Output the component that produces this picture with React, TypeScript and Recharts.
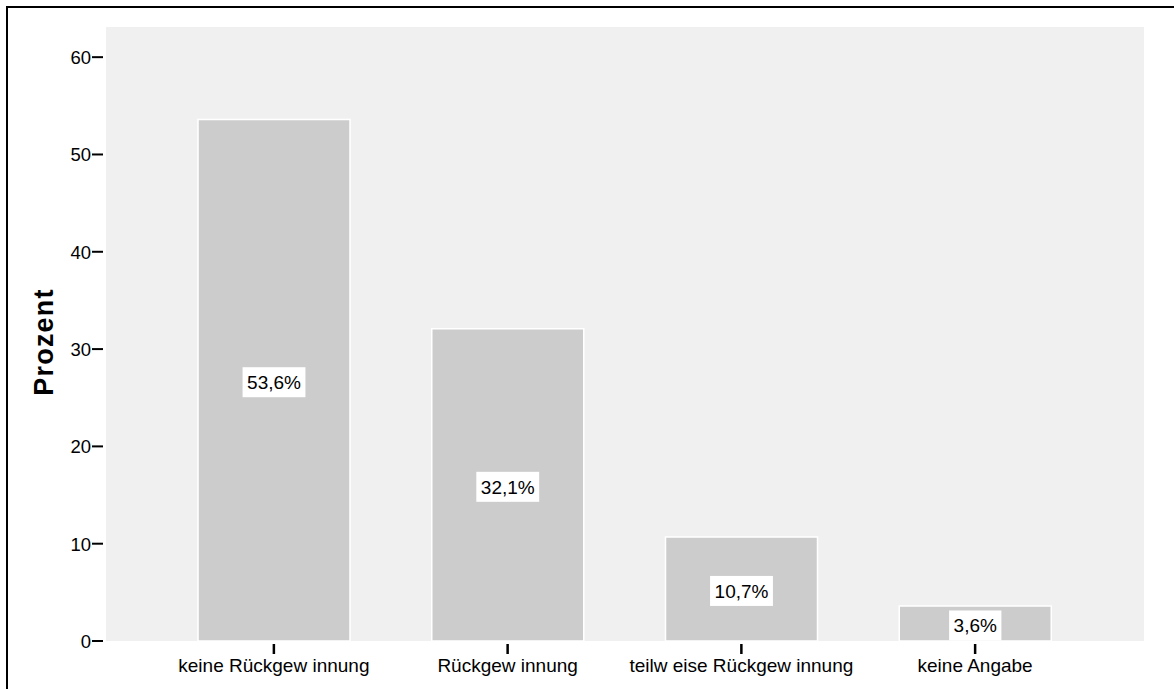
import { Bar, BarChart, CartesianGrid, LabelList, XAxis, YAxis } from "recharts";

const CATEGORIES = [
  "keine Rückgew innung",
  "Rückgew innung",
  "teilw eise Rückgew innung",
  "keine Angabe",
];
const PERCENT = [53.6, 32.1, 10.7, 3.6];
const Y_TICKS = [0, 10, 20, 30, 40, 50, 60];

const FONT = '"Liberation Sans", Arial, sans-serif';

const data = CATEGORIES.map((name, i) => ({ name, value: PERCENT[i] }));

// rough Arial advance widths, enough to size the label boxes
const CHAR_W: Record<string, number> = { ",": 0.278, "%": 0.889 };
function textWidth(s: string, size: number) {
  let w = 0;
  for (const ch of s) w += CHAR_W[ch] ?? 0.556;
  return w * size;
}

function formatPercent(v: number) {
  return v.toFixed(1).replace(".", ",") + "%";
}

function YTick(props: any) {
  const { x, y, payload } = props;
  return (
    <g>
      <line x1={x - 14} x2={x - 3} y1={y} y2={y} stroke="#000" strokeWidth={2} />
      <text x={x - 15} y={y + 7} textAnchor="end" fontSize={18.5} fontFamily={FONT} fill="#000">
        {payload.value}
      </text>
    </g>
  );
}

function XTick(props: any) {
  const { x, y, payload } = props;
  return (
    <g>
      <line x1={x} x2={x} y1={y + 3} y2={y + 13} stroke="#000" strokeWidth={2.5} />
      <text x={x} y={y + 31} textAnchor="middle" fontSize={19} fontFamily={FONT} fill="#000">
        {payload.value}
      </text>
    </g>
  );
}

function ValueLabel(props: any) {
  const { x, y, width, height, value } = props;
  const label = formatPercent(Number(value));
  const cx = x + width / 2;
  const cy = y + height / 2 + 2;
  const w = textWidth(label, 19) + 9;
  return (
    <g>
      <rect x={cx - w / 2} y={cy - 15} width={w} height={30} fill="#fff" />
      <text x={cx} y={cy + 7} textAnchor="middle" fontSize={19} fontFamily={FONT} fill="#000">
        {label}
      </text>
    </g>
  );
}

function AxisTitle(props: any) {
  const vb = props.viewBox ?? { x: 0, y: 0, width: 0, height: 0 };
  const cx = vb.x + 36;
  const cy = vb.y + vb.height / 2 + 8;
  return (
    <text
      x={cx}
      y={cy}
      transform={`rotate(-90, ${cx}, ${cy})`}
      textAnchor="middle"
      dominantBaseline="central"
      fontSize={27}
      fontWeight="bold"
      letterSpacing={1.2}
      fontFamily={FONT}
      fill="#000"
    >
      Prozent
    </text>
  );
}

export default function App() {
  return (
    <div
      style={{
        position: "fixed",
        left: 6,
        top: 6,
        width: 1168,
        height: 683,
        borderLeft: "2px solid #000",
        borderTop: "2px solid #000",
        boxSizing: "border-box",
        background: "#fff",
      }}
    >
      <BarChart
        width={1166}
        height={681}
        data={data}
        margin={{ top: 19, right: 30, bottom: 8, left: 0 }}
      >
        <CartesianGrid fill="#F0F0F0" horizontal={false} vertical={false} />
        <XAxis
          dataKey="name"
          axisLine={false}
          tickLine={false}
          tickSize={0}
          tickMargin={0}
          height={40}
          padding={{ left: 51, right: 52 }}
          interval={0}
          tick={<XTick />}
        />
        <YAxis
          type="number"
          domain={[0, 63.1]}
          ticks={Y_TICKS}
          axisLine={false}
          tickLine={false}
          tickSize={0}
          tickMargin={0}
          width={98}
          tick={<YTick />}
          label={<AxisTitle />}
        />
        <Bar
          dataKey="value"
          fill="#CCCCCC"
          stroke="#FFFFFF"
          strokeWidth={1.5}
          barSize={152}
          isAnimationActive={false}
        >
          <LabelList dataKey="value" content={<ValueLabel />} />
        </Bar>
      </BarChart>
    </div>
  );
}
